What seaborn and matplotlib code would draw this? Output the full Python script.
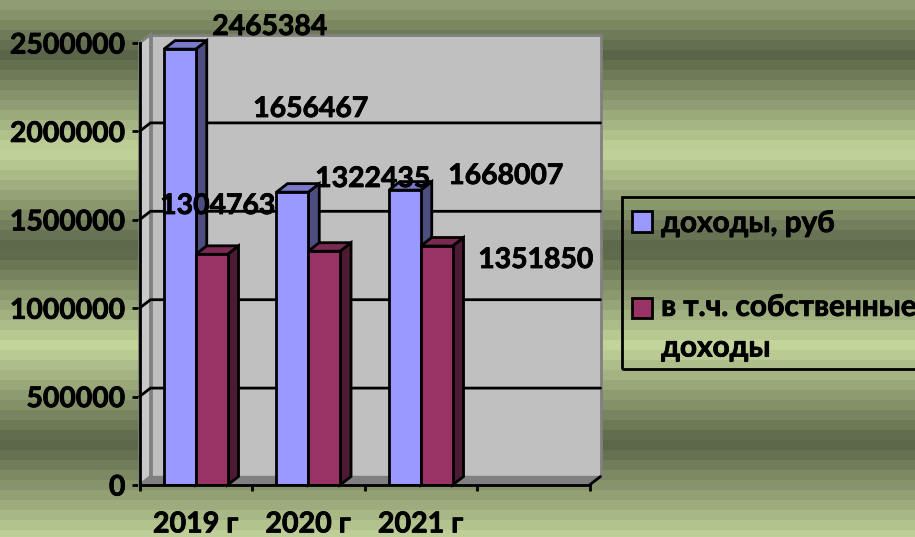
import numpy as np
import pandas as pd
import matplotlib
matplotlib.use("Agg")
import matplotlib.pyplot as plt
import matplotlib.patheffects as pe
import seaborn as sns
from matplotlib.colors import LinearSegmentedColormap
from matplotlib.patches import Polygon, Rectangle

categories = ["2019 г", "2020 г", "2021 г", " "]
income = [2465384, 1656467, 1668007, np.nan]
own_income = [1304763, 1322435, 1351850, np.nan]
series_names = ["доходы, руб", "в т.ч. собственные\nдоходы"]
y_ticks = [0, 500000, 1000000, 1500000, 2000000, 2500000]
colors = ["#9999FF", "#993366"]
side_colors = ["#4D4D80", "#4D1A33"]
top_colors = ["#7A7ACC", "#7A2952"]

# label centres in pixels of the reference picture
label_px = {2465384: (270, 27), 1656467: (311, 109), 1322435: (373, 179),
            1668007: (506, 176), 1304763: (218, 206), 1351850: (536, 260)}

W, H = 915, 537
sns.set_theme(style="white")
plt.rcParams["font.family"] = ["Lato", "DejaVu Sans"]
plt.rcParams["font.weight"] = "bold"
FS = 20.4
heavy = [pe.withStroke(linewidth=0.6, foreground="black")]

fig = plt.figure(figsize=(W / 100, H / 100), dpi=100)

# banded background
bg = fig.add_axes([0, 0, 1, 1], zorder=0)
y_px = (np.arange(H) // 10) * 10 + 5
phase = ((y_px - 55) / 194) % 1
t = 1 - np.abs(phase * 2 - 1)
cmap = LinearSegmentedColormap.from_list("bg", ["#5A6448", "#C3D59B"])
bg.imshow(t[:, None], aspect="auto", cmap=cmap, vmin=0, vmax=1, interpolation="nearest")
bg.axis("off")

L, R, T, B = 139.5, 589.5, 43, 485
ax = fig.add_axes([L / W, 1 - B / H, (R - L) / W, (B - T) / H], zorder=1)
ax.patch.set_alpha(0)

df = pd.DataFrame({
    "cat": categories * 2,
    "val": income + own_income,
    "series": [series_names[0]] * 4 + [series_names[1]] * 4,
})
sns.barplot(data=df, x="cat", y="val", hue="series", order=categories,
            hue_order=series_names, palette=colors, width=0.565, gap=0,
            saturation=1, edgecolor="black", linewidth=2, ax=ax, zorder=3,
            legend=True)
ax.set_xlim(-0.5, 3.5)
ax.set_ylim(0, 2500000)

dx = 11 * 4 / (R - L)
dy = 8.5 * 2500000 / (B - T)
x0, x1, y1 = -0.5, 3.5, 2500000
LW = 2

# 3D box
ax.add_patch(Polygon([(x0 + dx, dy), (x1 + dx, dy), (x1 + dx, y1 + dy), (x0 + dx, y1 + dy)],
                     fc="#C0C0C0", ec="#808080", lw=LW, clip_on=False, zorder=0.5))
ax.add_patch(Polygon([(x0, 0), (x0 + dx, dy), (x0 + dx, y1 + dy), (x0, y1)],
                     fc="#C8C8C8", ec="#808080", lw=LW, clip_on=False, zorder=0.6))
ax.add_patch(Polygon([(x0, 0), (x1, 0), (x1 + dx, dy), (x0 + dx, dy)],
                     fc="#808080", ec="#808080", lw=1, clip_on=False, zorder=0.6))
for v in y_ticks[1:-1]:
    ax.plot([x0, x0 + dx, x1 + dx], [v, v + dy, v + dy], color="black", lw=LW,
            clip_on=False, zorder=1, solid_joinstyle="miter")
ax.plot([x1, x1 + dx], [0, dy], color="black", lw=LW, clip_on=False, zorder=1)

# bar depth
for i, cont in enumerate(ax.containers):
    for p in cont.patches:
        h = p.get_height()
        if not np.isfinite(h) or h <= 0:
            continue
        a, b = p.get_x(), p.get_x() + p.get_width()
        z = 2 + i * 0.5
        ax.add_patch(Polygon([(b, 0), (b + dx, dy), (b + dx, h + dy), (b, h)],
                             fc=side_colors[i], ec="black", lw=LW, clip_on=False, zorder=z))
        ax.add_patch(Polygon([(a, h), (a + dx, h + dy), (b + dx, h + dy), (b, h)],
                             fc=top_colors[i], ec="black", lw=LW, clip_on=False, zorder=z))

# axes
for s in ["top", "right"]:
    ax.spines[s].set_visible(False)
for s in ["left", "bottom"]:
    ax.spines[s].set_visible(True)
    ax.spines[s].set_color("black")
    ax.spines[s].set_linewidth(LW)
    ax.spines[s].set_zorder(4)
ax.set_xlabel("")
ax.set_ylabel("")
ax.set_yticks(y_ticks)
ax.set_yticklabels([str(v) for v in y_ticks])
ax.tick_params(axis="y", left=True, length=5.8, width=LW, color="black", pad=4.3,
               labelsize=FS, labelcolor="black")
ax.set_xticks(range(4))
ax.set_xticklabels(categories)
ax.tick_params(axis="x", which="major", bottom=False, length=0, pad=19, labelsize=20.6,
               labelcolor="black")
ax.set_xticks(np.arange(-0.5, 4), minor=True)
ax.tick_params(axis="x", which="minor", bottom=True, length=4.5, width=LW, color="black")
for tx in ax.get_xticklabels() + ax.get_yticklabels():
    tx.set_path_effects(heavy)

# data labels
for v, (px, py) in label_px.items():
    fig.text(px / W, 1 - py / H, str(v), ha="center", va="center", fontsize=FS,
             fontweight="bold", color="black", zorder=6, path_effects=heavy)

# legend frame runs past the right edge of the picture
fig.add_artist(Rectangle((622 / W, 1 - 369 / H), 320 / W, 172 / H, transform=fig.transFigure,
                         fc="none", ec="black", lw=LW))
handles, labels = ax.get_legend_handles_labels()
ax.get_legend().remove()
leg = fig.legend(handles, labels, loc="upper left",
                 bbox_to_anchor=(632 / W, 1 - 209 / H), bbox_transform=fig.transFigure,
                 frameon=False, fontsize=21.4, handlelength=0.68, handleheight=0.68,
                 handletextpad=0.3, labelspacing=1.88, borderpad=0, borderaxespad=0)
for tx in leg.get_texts():
    tx.set_fontweight("bold")
    tx.set_color("black")
    tx.set_linespacing(1.55)
    tx.set_path_effects(heavy)
for hd in leg.legend_handles:
    hd.set_edgecolor("black")
    hd.set_linewidth(LW)
# the second key sits on the first line of its two-line label
leg.legend_handles[1].set_y(leg.legend_handles[1].get_y() + 14.5)

fig.savefig("out.png", dpi=100)
